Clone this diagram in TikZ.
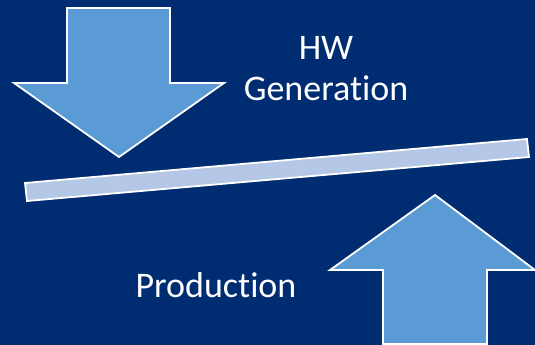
\documentclass[tikz,border=0pt]{standalone}
\usepackage{fontspec}
\setmainfont[Ligatures=NoCommon]{Carlito}
\definecolor{bgblue}{HTML}{002C72}
\definecolor{arrowblue}{HTML}{5B9BD5}
\definecolor{barblue}{HTML}{B4C7E7}
\tikzset{
  shapeout/.style={draw=white, line width=1.8pt, line join=miter},
  bigarrow/.style={shapeout, fill=arrowblue},
  lever/.style={shapeout, fill=barblue},
  label/.style={text=white, font=\fontsize{36}{41}\selectfont, align=center, inner sep=0pt}
}
\begin{document}
\begin{tikzpicture}[x=1pt,y=-1pt]
\fill[bgblue] (0,0) rectangle (535,345);
\useasboundingbox (0,0) rectangle (535,345);
% down arrow
\draw[bigarrow] (67,8) -- (170,8) -- (170,83) -- (224,83) -- (119,157) -- (14,83) -- (67,83) -- cycle;
% lever bar
\draw[lever] (25,183) -- (527,139) -- (529,157) -- (27,201) -- cycle;
% up arrow
\draw[bigarrow] (435,195) -- (535,270) -- (487,270) -- (487,344) -- (383,344) -- (383,270) -- (330,270) -- cycle;
\node[label] (hw) at (326,69) {HW\\Generation};
\node[label] (prod) at (216,285) {Production};
\end{tikzpicture}
\end{document}
